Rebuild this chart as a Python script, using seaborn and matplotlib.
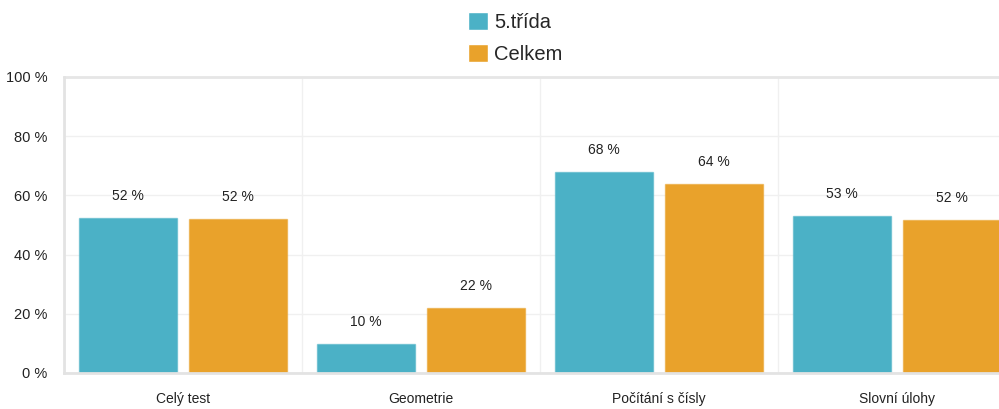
import pandas as pd
import numpy as np
import matplotlib
matplotlib.use('Agg')
import matplotlib.pyplot as plt
import seaborn as sns

categories = ['Celý test', 'Geometrie', 'Počítání s čísly', 'Slovní úlohy']
series_names = ['5.třída', 'Celkem']
trida5 = [52.4, 9.8, 67.9, 53.1]
celkem = [52.1, 21.9, 63.9, 51.6]
y_ticks = [0, 20, 40, 60, 80, 100]
colors = ['#4bb1c6', '#e9a22b']

sns.set_style('white')
plt.rcParams['font.family'] = ['Liberation Sans', 'DejaVu Sans']

df = pd.DataFrame({
    'kategorie': categories * 2,
    'hodnota': trida5 + celkem,
    'serie': [series_names[0]] * 4 + [series_names[1]] * 4,
})

fig = plt.figure(figsize=(9.99, 4.09), dpi=100)
ax = fig.add_axes([64 / 999, 36 / 409, 952 / 999, 296 / 409])

sns.barplot(data=df, x='kategorie', y='hodnota', hue='serie', palette=colors,
            width=0.924, gap=0.11, ax=ax, linewidth=1, saturation=1)

for cont, col in zip(ax.containers, colors):
    for p in cont:
        p.set_edgecolor(matplotlib.colors.to_rgba(col, 0.55))
    ax.bar_label(cont, labels=['%d %%' % round(p.get_height()) for p in cont],
                 padding=11, fontsize=10, color='#222222')

ax.set_ylim(0, 100)
ax.set_xlim(-0.5, 3.5)
ax.set_yticks(y_ticks)
ax.set_yticklabels(['%d %%' % t for t in y_ticks])
ax.set_xlabel('')
ax.set_ylabel('')

ax.set_xticks([-0.5, 0.5, 1.5, 2.5, 3.5], minor=True)
ax.tick_params(axis='x', which='major', length=0, pad=14, labelsize=10, labelcolor='#222222')
ax.tick_params(axis='x', which='minor', length=8, color='#ebebeb', width=1)
ax.tick_params(axis='y', length=8, color='#e3e3e3', width=1.5, labelsize=10.5, labelcolor='#222222', pad=4)
ax.grid(axis='y', color='#f0f0f0', linewidth=1)
ax.grid(axis='x', which='minor', color='#f0f0f0', linewidth=1)
ax.set_axisbelow(True)

for s in ['top', 'right']:
    ax.spines[s].set_visible(False)
ax.spines['left'].set_color('#e3e3e3')
ax.spines['left'].set_linewidth(2)
ax.spines['bottom'].set_color('#e3e3e3')
ax.spines['bottom'].set_linewidth(2)
ax.axhline(100, color='#e6e6e6', linewidth=2, clip_on=False)

handles, labels = ax.get_legend_handles_labels()
ax.get_legend().remove()
fig.legend(handles, labels, loc='upper center', bbox_to_anchor=(0.516, 1.0), ncol=1,
           frameon=False, fontsize=14.5, handlelength=1.0, handleheight=1.0,
           handletextpad=0.3, labelspacing=0.6, borderaxespad=0.2)

fig.savefig('out.png', dpi=100)
